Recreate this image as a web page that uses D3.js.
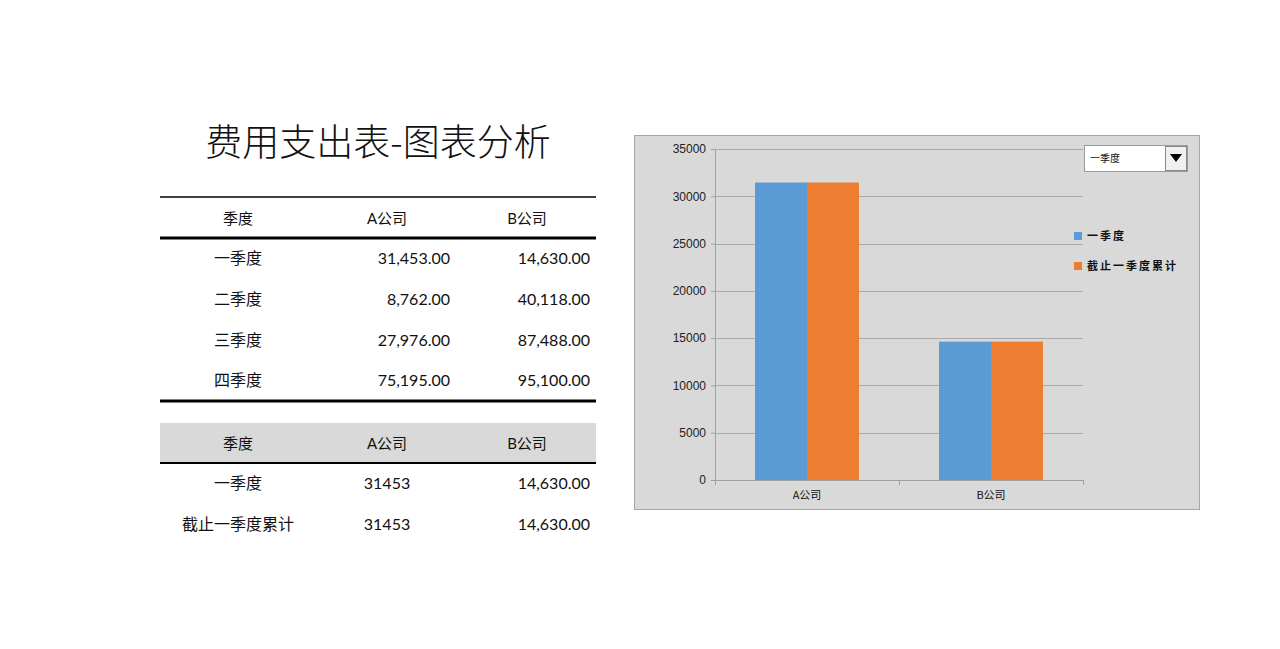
<html>
<head>
<meta charset="utf-8">
<script src="https://d3js.org/d3.v7.min.js"></script>
<style>
    body { margin: 0; background: #fff; }
    svg text { font-family: 'Lato', 'Noto Sans CJK SC', sans-serif; }
    .cjk { font-family: 'Noto Sans CJK SC', sans-serif !important; }
</style>
</head>
<body>
<svg id="sheet" width="1280" height="649"></svg>
<script>
    // table data
    const quarters = ['一季度', '二季度', '三季度', '四季度'];
    const companies = ['A公司', 'B公司'];
    const costA = [31453, 8762, 27976, 75195];
    const costB = [14630, 40118, 87488, 95100];

    // chart data (first quarter selected in the dropdown)
    const seriesNames = ['一季度', '截止一季度累计'];
    const quarterVals = [31453, 14630];
    const cumulativeVals = [31453, 14630];
    const yTicks = [0, 5000, 10000, 15000, 20000, 25000, 30000, 35000];

    const svg = d3.select('#sheet');
    const fmt = d3.format(',.2f');

    // title
    svg.append('text')
        .attr('class', 'cjk')
        .attr('x', 378).attr('y', 156)
        .attr('text-anchor', 'middle')
        .attr('font-size', 37)
        .attr('font-weight', 300)
        .attr('fill', '#111')
        .text('费用支出表-图表分析');

    // ---- table 1 ----
    const tableLeft = 160, tableRight = 596;
    const colCenter = [238, 387, 527];
    const colRight = [0, 450, 590];

    const t1 = svg.append('g');
    t1.append('line').attr('x1', tableLeft).attr('x2', tableRight)
        .attr('y1', 197).attr('y2', 197).attr('stroke', '#000').attr('stroke-width', 1.5);
    t1.append('line').attr('x1', tableLeft).attr('x2', tableRight)
        .attr('y1', 238).attr('y2', 238).attr('stroke', '#000').attr('stroke-width', 3);
    t1.append('line').attr('x1', tableLeft).attr('x2', tableRight)
        .attr('y1', 401).attr('y2', 401).attr('stroke', '#000').attr('stroke-width', 3);

    const header = ['季度'].concat(companies);
    t1.selectAll('.hd').data(header).enter().append('text')
        .attr('class', 'hd')
        .attr('x', (d, i) => colCenter[i]).attr('y', 224)
        .attr('text-anchor', 'middle').attr('font-size', 15).attr('fill', '#111')
        .text(d => d);

    const rowY = [264, 305, 346, 386];
    quarters.forEach((q, i) => {
        t1.append('text').attr('x', colCenter[0]).attr('y', rowY[i])
            .attr('text-anchor', 'middle').attr('font-size', 16).attr('fill', '#111').text(q);
        t1.append('text').attr('x', colRight[1]).attr('y', rowY[i])
            .attr('text-anchor', 'end').attr('font-size', 16).attr('fill', '#111').text(fmt(costA[i]));
        t1.append('text').attr('x', colRight[2]).attr('y', rowY[i])
            .attr('text-anchor', 'end').attr('font-size', 16).attr('fill', '#111').text(fmt(costB[i]));
    });

    // ---- table 2 ----
    const t2 = svg.append('g');
    t2.append('rect').attr('x', tableLeft).attr('y', 423)
        .attr('width', tableRight - tableLeft).attr('height', 40).attr('fill', '#d9d9d9');
    t2.append('line').attr('x1', tableLeft).attr('x2', tableRight)
        .attr('y1', 463).attr('y2', 463).attr('stroke', '#000').attr('stroke-width', 2);
    t2.selectAll('.hd').data(header).enter().append('text')
        .attr('class', 'hd')
        .attr('x', (d, i) => colCenter[i]).attr('y', 449)
        .attr('text-anchor', 'middle').attr('font-size', 15).attr('fill', '#111')
        .text(d => d);
    const row2Y = [489, 530];
    seriesNames.forEach((s, i) => {
        const a = i === 0 ? quarterVals[0] : cumulativeVals[0];
        const b = i === 0 ? quarterVals[1] : cumulativeVals[1];
        t2.append('text').attr('x', colCenter[0]).attr('y', row2Y[i])
            .attr('text-anchor', 'middle').attr('font-size', 16).attr('fill', '#111').text(s);
        t2.append('text').attr('x', colCenter[1]).attr('y', row2Y[i])
            .attr('text-anchor', 'middle').attr('font-size', 16).attr('fill', '#111').text(a);
        t2.append('text').attr('x', colRight[2]).attr('y', row2Y[i])
            .attr('text-anchor', 'end').attr('font-size', 16).attr('fill', '#111').text(fmt(b));
    });

    // ---- chart ----
    svg.append('rect').attr('x', 634.5).attr('y', 135.5)
        .attr('width', 565).attr('height', 374)
        .attr('fill', '#d9d9d9').attr('stroke', '#a6a6a6');

    const plot = {left: 715, top: 149, width: 368, height: 331};
    const g = svg.append('g').attr('transform', `translate(${plot.left},${plot.top})`);

    const x0 = d3.scaleBand().domain(companies).range([0, plot.width])
        .paddingInner(0.435).paddingOuter(0.2175);
    const x1 = d3.scaleBand().domain(seriesNames).range([0, x0.bandwidth()]);
    const y = d3.scaleLinear().domain([0, 35000]).range([plot.height, 0]);
    const colors = d3.scaleOrdinal().domain(seriesNames).range(['#5b9bd5', '#ed7d31']);

    // gridlines
    g.append('g').selectAll('line').data(yTicks.filter(d => d > 0)).enter().append('line')
        .attr('x1', 0).attr('x2', plot.width)
        .attr('y1', d => Math.round(y(d)) + 0.5).attr('y2', d => Math.round(y(d)) + 0.5)
        .attr('stroke', '#a9a9a9');

    const yAxis = g.append('g').call(d3.axisLeft(y).tickValues(yTicks)
        .tickFormat(d3.format('d')).tickSize(4).tickSizeOuter(0).tickPadding(5));
    yAxis.selectAll('path, line').attr('stroke', '#a0a0a0');
    yAxis.selectAll('text').attr('font-size', 12).attr('fill', '#222')
        .style('font-family', "'Liberation Sans', sans-serif");

    // bars
    const barData = companies.map((c, i) => ({
        company: c,
        vals: [{s: seriesNames[0], v: quarterVals[i]}, {s: seriesNames[1], v: cumulativeVals[i]}]
    }));
    g.selectAll('.grp').data(barData).enter().append('g')
        .attr('class', 'grp')
        .attr('transform', d => `translate(${x0(d.company)},0)`)
        .selectAll('rect').data(d => d.vals).enter().append('rect')
        .attr('x', d => x1(d.s)).attr('width', x1.bandwidth())
        .attr('y', d => y(d.v)).attr('height', d => plot.height - y(d.v))
        .attr('fill', d => colors(d.s));

    // x axis with ticks at category boundaries
    const xAxis = g.append('g').attr('transform', `translate(0,${plot.height})`)
        .call(d3.axisBottom(x0).tickSize(0).tickPadding(11));
    xAxis.select('.domain').attr('stroke', '#a0a0a0');
    xAxis.selectAll('text').attr('font-size', 11).attr('fill', '#111')
        .style('font-family', "'Noto Sans CJK SC', sans-serif");
    xAxis.selectAll('.bound').data([0, 1, 2]).enter().append('line')
        .attr('class', 'bound')
        .attr('x1', d => d * x0.step() + 0.5).attr('x2', d => d * x0.step() + 0.5)
        .attr('y1', 0).attr('y2', 5).attr('stroke', '#a0a0a0');

    // legend
    const legend = svg.append('g').attr('transform', 'translate(1074,232)');
    seriesNames.forEach((s, i) => {
        legend.append('rect').attr('x', 0).attr('y', i * 30)
            .attr('width', 8).attr('height', 8).attr('fill', colors(s));
        legend.append('text').attr('class', 'cjk')
            .attr('x', 13).attr('y', i * 30 + 8)
            .attr('font-size', 11).attr('font-weight', 'bold').attr('fill', '#111')
            .attr('letter-spacing', 2)
            .text(s);
    });

    // dropdown control
    const dd = svg.append('g').attr('transform', 'translate(1084,145)');
    dd.append('rect').attr('x', 0.5).attr('y', 0.5).attr('width', 103).attr('height', 26)
        .attr('fill', '#fff').attr('stroke', '#9a9a9a');
    dd.append('rect').attr('x', 81.5).attr('y', 1.5).attr('width', 21).attr('height', 24)
        .attr('fill', '#f0f0f0').attr('stroke', '#8a8a8a');
    dd.append('path').attr('d', 'M86,9 L98,9 L92,17 Z').attr('fill', '#000');
    dd.append('text').attr('class', 'cjk').attr('x', 6).attr('y', 17)
        .attr('font-size', 10).attr('fill', '#111').text(seriesNames[0]);
</script>
</body>
</html>
